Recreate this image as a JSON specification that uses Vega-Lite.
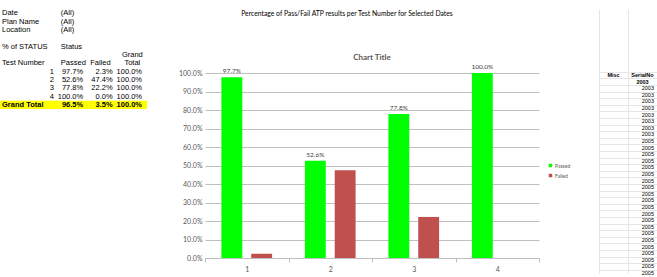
{
  "$schema": "https://vega.github.io/schema/vega-lite/v6.json",
  "padding": {"left": 0, "top": 9, "right": 0, "bottom": 0},
  "background": "white",
  "spacing": 59,
  "config": {
    "view": {"stroke": null},
    "font": "Liberation Sans",
    "axisX": {"title": null, "labelAngle": 0, "tickBand": "extent", "tickSize": 4, "tickColor": "#bfbfbf",
              "domainColor": "#bfbfbf", "labelPadding": 3, "labelFont": "Lato", "labelFontSize": 7, "labelColor": "#595959"}
  },
  "datasets": {
    "tableLabels": [
      {"row": 1, "col": "A", "text": "Date"}, {"row": 1, "col": "B", "text": "(All)"},
      {"row": 2, "col": "A", "text": "Plan Name"}, {"row": 2, "col": "B", "text": "(All)"},
      {"row": 3, "col": "A", "text": "Location"}, {"row": 3, "col": "B", "text": "(All)"},
      {"row": 5, "col": "A", "text": "% of STATUS"}, {"row": 5, "col": "B", "text": "Status"},
      {"row": 7, "col": "A", "text": "Test Number"}, {"row": 7, "col": "B", "text": "Passed"}, {"row": 7, "col": "C", "text": "Failed"},
      {"row": 12, "col": "A", "text": "Grand Total"}
    ],
    "tableValues": [
      {"row": 8, "col": "A2", "text": "1"}, {"row": 8, "col": "B", "text": "97.7%"}, {"row": 8, "col": "C", "text": "2.3%"}, {"row": 8, "col": "D", "text": "100.0%"},
      {"row": 9, "col": "A2", "text": "2"}, {"row": 9, "col": "B", "text": "52.6%"}, {"row": 9, "col": "C", "text": "47.4%"}, {"row": 9, "col": "D", "text": "100.0%"},
      {"row": 10, "col": "A2", "text": "3"}, {"row": 10, "col": "B", "text": "77.8%"}, {"row": 10, "col": "C", "text": "22.2%"}, {"row": 10, "col": "D", "text": "100.0%"},
      {"row": 11, "col": "A2", "text": "4"}, {"row": 11, "col": "B", "text": "100.0%"}, {"row": 11, "col": "C", "text": "0.0%"}, {"row": 11, "col": "D", "text": "100.0%"},
      {"row": 12, "col": "B", "text": "96.5%"}, {"row": 12, "col": "C", "text": "3.5%"}, {"row": 12, "col": "D", "text": "100.0%"}
    ],
    "tableHeaders": [
      {"row": 6, "col": "D", "text": "Grand"}, {"row": 7, "col": "D", "text": "Total"}
    ],
    "totalRow": [
      {"row": 12, "col": "A"}, {"row": 12, "col": "A2"}, {"row": 12, "col": "B"}, {"row": 12, "col": "C"}, {"row": 12, "col": "D"}
    ],
    "results": [
      {"test": "1", "status": "Passed", "pct": 0.977}, {"test": "1", "status": "Failed", "pct": 0.023},
      {"test": "2", "status": "Passed", "pct": 0.526}, {"test": "2", "status": "Failed", "pct": 0.474},
      {"test": "3", "status": "Passed", "pct": 0.778}, {"test": "3", "status": "Failed", "pct": 0.222},
      {"test": "4", "status": "Passed", "pct": 1.0}, {"test": "4", "status": "Failed", "pct": 0.0}
    ],
    "serialHeaders": [
      {"row": 10, "col": "Misc", "text": "Misc"}, {"row": 10, "col": "SerialNo", "text": "SerialNo"}, {"row": 11, "col": "SerialNo", "text": "2003"}
    ],
    "serials": [
      {"row": 12, "serial": 2003}, {"row": 13, "serial": 2003}, {"row": 14, "serial": 2003}, {"row": 15, "serial": 2003},
      {"row": 16, "serial": 2003}, {"row": 17, "serial": 2003}, {"row": 18, "serial": 2003}, {"row": 19, "serial": 2003},
      {"row": 20, "serial": 2005}, {"row": 21, "serial": 2005}, {"row": 22, "serial": 2005}, {"row": 23, "serial": 2005},
      {"row": 24, "serial": 2005}, {"row": 25, "serial": 2005}, {"row": 26, "serial": 2005}, {"row": 27, "serial": 2005},
      {"row": 28, "serial": 2005}, {"row": 29, "serial": 2005}, {"row": 30, "serial": 2005}, {"row": 31, "serial": 2005},
      {"row": 32, "serial": 2005}, {"row": 33, "serial": 2005}, {"row": 34, "serial": 2005}, {"row": 35, "serial": 2005},
      {"row": 36, "serial": 2005}, {"row": 37, "serial": 2005}, {"row": 38, "serial": 2005}, {"row": 39, "serial": 2005},
      {"row": 40, "serial": 2005}
    ]
  },
  "hconcat": [
    {
      "spacing": 31,
      "hconcat": [
        {
          "width": 147,
          "height": 100,
          "encoding": {
            "x": {"field": "col", "type": "nominal", "scale": {"domain": ["A", "A2", "B", "C", "D"], "paddingInner": 0, "paddingOuter": 0}, "axis": null},
            "y": {"field": "row", "type": "ordinal", "scale": {"domain": [1, 2, 3, 4, 5, 6, 7, 8, 9, 10, 11, 12], "paddingInner": 0, "paddingOuter": 0}, "axis": null}
          },
          "layer": [
            {"data": {"name": "totalRow"}, "mark": {"type": "rect", "color": "#FFFF00"}},
            {"data": {"name": "tableLabels"}, "transform": [{"filter": "datum.row !== 12"}],
             "mark": {"type": "text", "align": "left", "dx": 2, "fontSize": 7.5, "color": "#000"},
             "encoding": {"x": {"field": "col", "type": "nominal", "bandPosition": 0}, "text": {"field": "text"}}},
            {"data": {"name": "tableLabels"}, "transform": [{"filter": "datum.row === 12"}],
             "mark": {"type": "text", "align": "left", "dx": 2, "fontSize": 7.5, "fontWeight": "bold", "color": "#000"},
             "encoding": {"x": {"field": "col", "type": "nominal", "bandPosition": 0}, "text": {"field": "text"}}},
            {"data": {"name": "tableValues"}, "transform": [{"filter": "datum.row !== 12"}],
             "mark": {"type": "text", "align": "right", "dx": -5, "fontSize": 7.5, "color": "#000"},
             "encoding": {"x": {"field": "col", "type": "nominal", "bandPosition": 1}, "text": {"field": "text"}}},
            {"data": {"name": "tableValues"}, "transform": [{"filter": "datum.row === 12"}],
             "mark": {"type": "text", "align": "right", "dx": -5, "fontSize": 7.5, "fontWeight": "bold", "color": "#000"},
             "encoding": {"x": {"field": "col", "type": "nominal", "bandPosition": 1}, "text": {"field": "text"}}},
            {"data": {"name": "tableHeaders"},
             "mark": {"type": "text", "align": "center", "fontSize": 7.5, "color": "#000"},
             "encoding": {"text": {"field": "text"}}}
          ]
        },
        {
          "width": 334,
          "height": 249,
          "layer": [
            {
              "data": {"name": "results"},
              "encoding": {
                "x": {"field": "test", "type": "nominal", "title": null, "scale": {"paddingInner": 0, "paddingOuter": 0}},
                "xOffset": {"field": "status", "type": "nominal", "scale": {"domain": ["Passed", "Failed"], "paddingInner": 0.3, "paddingOuter": 0.55}},
                "y": {"field": "pct", "type": "quantitative", "title": null, "scale": {"domain": [0, 1.346], "nice": false},
                      "axis": {"format": ".1%", "values": [0, 0.1, 0.2, 0.3, 0.4, 0.5, 0.6, 0.7, 0.8, 0.9, 1.0],
                               "labelOverlap": false, "grid": true, "gridColor": "#bfbfbf", "domain": false, "ticks": false, "labelPadding": 3,
                               "labelFont": "Lato", "labelFontSize": 7, "labelColor": "#595959"}}
              },
              "layer": [
                {
                  "mark": {"type": "bar"},
                  "encoding": {
                    "color": {"field": "status", "type": "nominal",
                              "scale": {"domain": ["Passed", "Failed"], "range": ["#00FF00", "#C0504D"]},
                              "legend": {"title": null, "orient": "none", "legendX": 548, "legendY": 154, "padding": 0,
                                         "symbolType": "square", "symbolSize": 12, "symbolStrokeWidth": 0, "labelFont": "Lato", "labelFontSize": 5,
                                         "labelColor": "#595959", "rowPadding": 4, "labelOffset": 2}}
                  }
                },
                {
                  "transform": [{"filter": "datum.status === 'Passed'"}],
                  "mark": {"type": "text", "baseline": "bottom", "dy": -3, "font": "Lato", "fontSize": 6.5, "color": "#404040"},
                  "encoding": {
                    "text": {"field": "pct", "type": "quantitative", "format": ".1%"}
                  }
                }
              ]
            },
            {
              "data": {"values": [{"label": "Chart Title"}]},
              "mark": {"type": "text", "font": "Lato", "fontSize": 8, "fontWeight": "bold", "color": "#595959"},
              "encoding": {
                "x": {"datum": "2", "bandPosition": 1, "title": null},
                "y": {"datum": 1.08, "title": null,
                      "axis": {"format": ".1%", "values": [0, 0.1, 0.2, 0.3, 0.4, 0.5, 0.6, 0.7, 0.8, 0.9, 1.0],
                               "labelOverlap": false, "grid": true, "gridColor": "#bfbfbf", "domain": false, "ticks": false, "labelPadding": 3,
                               "labelFont": "Lato", "labelFontSize": 7, "labelColor": "#595959"}},
                "text": {"field": "label"}
              }
            },
            {
              "data": {"values": [{"label": "Percentage of Pass/Fail ATP results per Test Number for Selected Dates"}]},
              "mark": {"type": "text", "font": "Lato", "fontSize": 6.8, "color": "#000"},
              "encoding": {
                "x": {"datum": "2", "bandPosition": 0.7, "title": null},
                "y": {"datum": 1.319, "title": null,
                      "axis": {"format": ".1%", "values": [0, 0.1, 0.2, 0.3, 0.4, 0.5, 0.6, 0.7, 0.8, 0.9, 1.0],
                               "labelOverlap": false, "grid": true, "gridColor": "#bfbfbf", "domain": false, "ticks": false, "labelPadding": 3,
                               "labelFont": "Lato", "labelFontSize": 7, "labelColor": "#595959"}},
                "text": {"field": "label"}
              }
            }
          ]
        }
      ]
    },
    {
      "width": 58,
      "height": 264,
      "encoding": {
        "y": {"field": "row", "type": "quantitative", "scale": {"domain": [0, 40], "nice": false, "zero": false, "reverse": true},
              "axis": {"title": null, "labels": false, "ticks": false, "domain": false, "grid": true, "gridColor": "#e6e6e6",
                       "values": [9.5, 10.5, 11.5, 12.5, 13.5, 14.5, 15.5, 16.5, 17.5, 18.5, 19.5, 20.5, 21.5, 22.5, 23.5, 24.5, 25.5, 26.5, 27.5, 28.5, 29.5, 30.5, 31.5, 32.5, 33.5, 34.5, 35.5, 36.5, 37.5, 38.5, 39.5]}}
      },
      "layer": [
        {
          "data": {"name": "serialHeaders"},
          "mark": {"type": "text", "fontSize": 5.5, "fontWeight": "bold", "color": "#000"},
          "encoding": {
            "x": {"field": "col", "type": "nominal", "scale": {"domain": ["Misc", "SerialNo"], "paddingInner": 0, "paddingOuter": 0},
                  "axis": {"title": null, "labels": false, "ticks": false, "domain": false, "grid": true, "gridColor": "#e6e6e6", "tickBand": "extent", "tickSize": 0, "labelPadding": 0}},
            "text": {"field": "text"}
          }
        },
        {
          "data": {"name": "serials"},
          "mark": {"type": "text", "align": "right", "dx": -3, "fontSize": 5.5, "color": "#000"},
          "encoding": {
            "x": {"datum": "SerialNo", "bandPosition": 1},
            "text": {"field": "serial", "type": "quantitative", "format": "d"}
          }
        }
      ]
    }
  ]
}
